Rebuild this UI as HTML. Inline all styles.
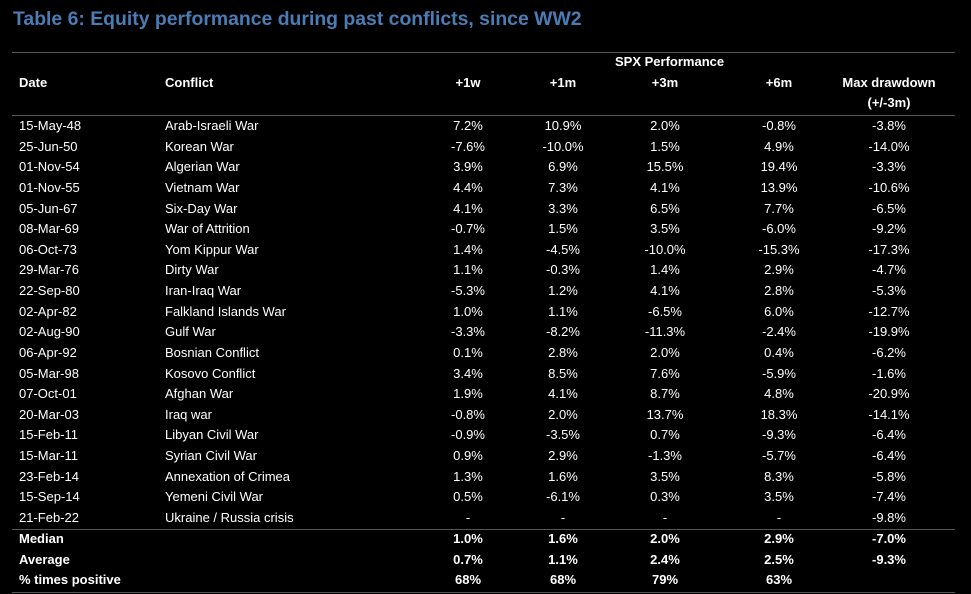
<!DOCTYPE html>
<html><head><meta charset="utf-8"><style>
body{margin:0;background:#000;width:971px;height:594px;overflow:hidden;position:relative;font-family:"Liberation Sans",Arial,sans-serif;color:#fff;}
.t{position:absolute;left:13px;top:8px;font-size:19.4px;font-weight:bold;color:#4a7cb5;white-space:nowrap}
.l{position:absolute;left:12px;width:943px;height:1px;background:#555}
.r{position:absolute;left:0;width:971px;height:20px;font-size:13px;line-height:20px;white-space:nowrap}
.r span{position:absolute}
.d{left:19px}.c{left:165px}
.v{width:100px;text-align:center}
.a{left:418px}.b{left:513px}.e{left:615px}.f{left:729px}.g{left:839px}
.h{font-weight:bold}
</style></head><body>
<div class="t">Table 6: Equity performance during past conflicts, since WW2</div>
<div class="l" style="top:52px"></div>
<div class="r h" style="top:52px"><span class="v e">SPX Performance</span></div>
<div class="r h" style="top:73px"><span class="d">Date</span><span class="c">Conflict</span><span class="v a">+1w</span><span class="v b">+1m</span><span class="v e">+3m</span><span class="v f">+6m</span><span class="v g" style="left:829px;width:120px">Max drawdown</span></div>
<div class="r h" style="top:93px"><span class="v g" style="left:829px;width:120px">(+/-3m)</span></div>
<div class="l" style="top:115px"></div>
<div id="rows"></div>
<div class="l" style="top:529px"></div>
<div class="l" style="top:592px"></div>
<script>
var d=[["15-May-48","Arab-Israeli War","7.2%","10.9%","2.0%","-0.8%","-3.8%"],
["25-Jun-50","Korean War","-7.6%","-10.0%","1.5%","4.9%","-14.0%"],
["01-Nov-54","Algerian War","3.9%","6.9%","15.5%","19.4%","-3.3%"],
["01-Nov-55","Vietnam War","4.4%","7.3%","4.1%","13.9%","-10.6%"],
["05-Jun-67","Six-Day War","4.1%","3.3%","6.5%","7.7%","-6.5%"],
["08-Mar-69","War of Attrition","-0.7%","1.5%","3.5%","-6.0%","-9.2%"],
["06-Oct-73","Yom Kippur War","1.4%","-4.5%","-10.0%","-15.3%","-17.3%"],
["29-Mar-76","Dirty War","1.1%","-0.3%","1.4%","2.9%","-4.7%"],
["22-Sep-80","Iran-Iraq War","-5.3%","1.2%","4.1%","2.8%","-5.3%"],
["02-Apr-82","Falkland Islands War","1.0%","1.1%","-6.5%","6.0%","-12.7%"],
["02-Aug-90","Gulf War","-3.3%","-8.2%","-11.3%","-2.4%","-19.9%"],
["06-Apr-92","Bosnian Conflict","0.1%","2.8%","2.0%","0.4%","-6.2%"],
["05-Mar-98","Kosovo Conflict","3.4%","8.5%","7.6%","-5.9%","-1.6%"],
["07-Oct-01","Afghan War","1.9%","4.1%","8.7%","4.8%","-20.9%"],
["20-Mar-03","Iraq war","-0.8%","2.0%","13.7%","18.3%","-14.1%"],
["15-Feb-11","Libyan Civil War","-0.9%","-3.5%","0.7%","-9.3%","-6.4%"],
["15-Mar-11","Syrian Civil War","0.9%","2.9%","-1.3%","-5.7%","-6.4%"],
["23-Feb-14","Annexation of Crimea","1.3%","1.6%","3.5%","8.3%","-5.8%"],
["15-Sep-14","Yemeni Civil War","0.5%","-6.1%","0.3%","3.5%","-7.4%"],
["21-Feb-22","Ukraine / Russia crisis","-","-","-","-","-9.8%"],
["Median","","1.0%","1.6%","2.0%","2.9%","-7.0%",1],
["Average","","0.7%","1.1%","2.4%","2.5%","-9.3%",1],
["% times positive","","68%","68%","79%","63%","",1]];
var h="",cls=["a","b","e","f","g"];
d.forEach(function(r,i){var y=i<20?116+i*20.63:529+(i-20)*20.6;
h+='<div class="r'+(r[7]?' h':'')+'" style="top:'+y.toFixed(1)+'px"><span class="d">'+r[0]+'</span><span class="c">'+r[1]+'</span>';
for(var k=0;k<5;k++)h+='<span class="v '+cls[k]+'">'+r[k+2]+'</span>';h+='</div>';});
document.getElementById("rows").innerHTML=h;
</script>
</body></html>
